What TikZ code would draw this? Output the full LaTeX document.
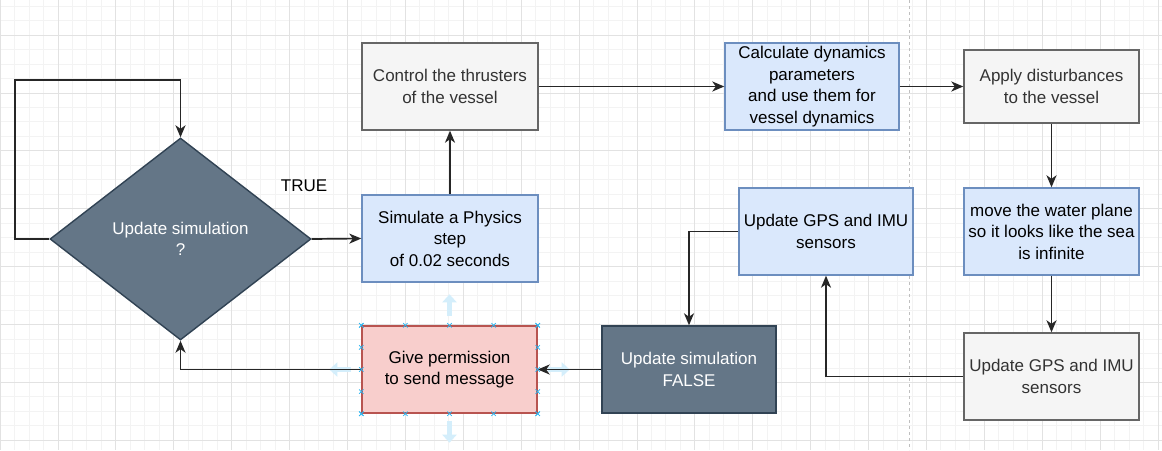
\documentclass[tikz,border=0pt]{standalone}
\usepackage{fontspec}
\setmainfont{Liberation Sans}
\usetikzlibrary{shapes.geometric,arrows.meta,calc}
\definecolor{grayfill}{HTML}{F5F5F5}
\definecolor{graystroke}{HTML}{666666}
\definecolor{graytext}{HTML}{333333}
\definecolor{bluefill}{HTML}{DAE8FC}
\definecolor{bluestroke}{HTML}{6C8EBF}
\definecolor{darkfill}{HTML}{647687}
\definecolor{darkstroke}{HTML}{314354}
\definecolor{redfill}{HTML}{F8CECC}
\definecolor{redstroke}{HTML}{B85450}
\definecolor{handle}{HTML}{29B6F2}
\definecolor{hover}{HTML}{D4EEFB}
\definecolor{gridminor}{HTML}{F3F3F3}
\definecolor{gridmajor}{HTML}{E2E2E2}
\tikzset{
  box/.style={rectangle, minimum width=176pt, minimum height=87pt, inner sep=0pt,
    align=center, line width=1.4pt, font=\fontsize{17}{21.5}\selectfont},
  graybox/.style={box, fill=grayfill, draw=graystroke, text=graytext},
  bluebox/.style={box, fill=bluefill, draw=bluestroke, text=black},
  darkbox/.style={box, fill=darkfill, draw=darkstroke, text=white},
  redbox/.style={box, fill=redfill, draw=redstroke, text=black},
  conn/.style={line width=1.7pt, draw=black!85,
    -{Stealth[length=12pt,width=10pt,inset=3.5pt]}},
  hoverarrow/.style={line width=5pt, draw=hover,
    -{Triangle[length=8pt,width=14pt]}},
}
\begin{document}
\begin{tikzpicture}[x=1pt,y=-1pt]
\useasboundingbox (0,0) rectangle (1162,450);
\fill[white] (0,0) rectangle (1162,450);
% grid
\foreach \i in {0,...,81} {
  \draw[gridminor, line width=0.8pt] (\i*14.475,0) -- (\i*14.475,450);
}
\foreach \j in {0,...,33} {
  \draw[gridminor, line width=0.8pt] (0,-22.9+\j*14.475) -- (1162,-22.9+\j*14.475);
}
\foreach \i in {0,...,21} {
  \draw[gridmajor, line width=0.8pt] (\i*57.9,0) -- (\i*57.9,450);
}
\foreach \j in {0,...,8} {
  \draw[gridmajor, line width=0.8pt] (0,-22.9+\j*57.9) -- (1162,-22.9+\j*57.9);
}
\draw[gray!50, line width=0.8pt, dash pattern=on 3pt off 3pt] (909,0) -- (909,450);

% nodes
\node[diamond, aspect=1.29, minimum width=261pt, minimum height=202pt, inner sep=0pt,
  fill=darkfill, draw=darkstroke, line width=1.4pt, text=white, align=center,
  font=\fontsize{17}{21.5}\selectfont] (dia) at (180.5,239) {Update simulation\\?};
\node[font=\fontsize{17}{21.5}\selectfont] (true) at (304,186) {TRUE};
\node[bluebox] (sim) at (450,238.5) {Simulate a Physics\\step\\of 0.02 seconds};
\node[graybox] (ctrl) at (450,86.5) {Control the thrusters\\of the vessel};
\node[bluebox, minimum width=174pt] (calc) at (812,86.5) {Calculate dynamics\\parameters\\and use them for\\vessel dynamics};
\node[graybox, minimum width=175pt, minimum height=73pt] (apply) at (1051.5,86.5) {Apply disturbances\\to the vessel};
\node[bluebox, minimum width=175pt] (move) at (1051.5,231.5) {move the water plane\\so it looks like the sea\\is infinite};
\node[graybox, minimum width=175pt] (gps2) at (1051.5,376.5) {Update GPS and IMU\\sensors};
\node[bluebox, minimum width=174pt] (gps1) at (826,231.5) {Update GPS and IMU\\sensors};
\node[darkbox, minimum width=174pt] (false) at (689,369.5) {Update simulation\\FALSE};
\node[redbox, minimum width=175pt] (perm) at (449.5,369.5) {Give permission\\to send message};

% hover arrows around the selected box
\draw[hoverarrow] (perm.north) ++(0,-9) -- ++(0,-22);
\draw[hoverarrow] (perm.south) ++(0,7) -- ++(0,22);
\draw[hoverarrow] (perm.west) ++(-10,0) -- ++(-22,0);
\draw[hoverarrow] (perm.east) ++(10,0) -- ++(22,0);

% connectors
\coordinate (loop) at (15,80);
\draw[conn] (dia.west) -| (loop) -| (dia.north);
\draw[conn] (dia.east) -- (sim.west);
\draw[conn] (sim.north) -- (ctrl.south);
\draw[conn] (ctrl.east) -- (calc.west);
\draw[conn] (calc.east) -- (apply.west);
\draw[conn] (apply.south) -- (move.north);
\draw[conn] (move.south) -- (gps2.north);
\draw[conn] (gps2.west) -| (gps1.south);
\draw[conn] (gps1.west) -| (false.north);
\draw[conn] (false.west) -- (perm.east);
\draw[conn] (perm.west) -| (dia.south);

% selection handles
\foreach \p in {0,0.25,0.5,0.75,1} {
  \foreach \q in {0,1} {
    \path ($(perm.north west)!\p!(perm.north east)$) coordinate (h);
    \path ($(perm.north west)!\q!(perm.south west)$) coordinate (v);
    \draw[handle, line width=0.7pt] ($(h |- v)+(-2.2,-2.2)$) -- +(4.4,4.4) ($(h |- v)+(-2.2,2.2)$) -- +(4.4,-4.4);
    \path ($(perm.north west)!\q!(perm.north east)$) coordinate (h2);
    \path ($(perm.north west)!\p!(perm.south west)$) coordinate (v2);
    \draw[handle, line width=0.7pt] ($(h2 |- v2)+(-2.2,-2.2)$) -- +(4.4,4.4) ($(h2 |- v2)+(-2.2,2.2)$) -- +(4.4,-4.4);
  }
}
\end{tikzpicture}
\end{document}
